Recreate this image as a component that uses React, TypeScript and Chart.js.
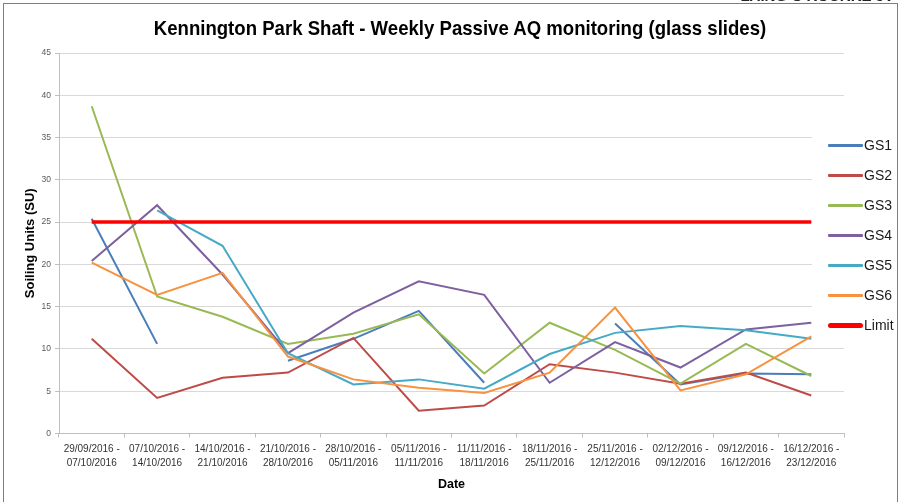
import React, { useEffect, useRef } from "react";
import { Chart, registerables } from "chart.js";

Chart.register(...registerables);

const categories: string[][] = [
  ["29/09/2016 -", "07/10/2016"],
  ["07/10/2016 -", "14/10/2016"],
  ["14/10/2016 -", "21/10/2016"],
  ["21/10/2016 -", "28/10/2016"],
  ["28/10/2016 -", "05/11/2016"],
  ["05/11/2016 -", "11/11/2016"],
  ["11/11/2016 -", "18/11/2016"],
  ["18/11/2016 -", "25/11/2016"],
  ["25/11/2016 -", "12/12/2016"],
  ["02/12/2016 -", "09/12/2016"],
  ["09/12/2016 -", "16/12/2016"],
  ["16/12/2016 -", "23/12/2016"],
];

const gs1: (number | null)[] = [25.4, 10.6, null, 8.6, 11.2, 14.5, 6.0, null, 13.0, 5.8, 7.1, 7.0];
const gs2: (number | null)[] = [11.2, 4.2, 6.6, 7.2, 11.3, 2.7, 3.3, 8.2, 7.2, 5.9, 7.2, 4.5];
const gs3: (number | null)[] = [38.7, 16.2, 13.8, 10.6, 11.8, 14.1, 7.1, 13.1, 9.9, 5.9, 10.6, 6.8];
const gs4: (number | null)[] = [20.4, 27.0, 18.8, 9.5, 14.3, 18.0, 16.4, 6.0, 10.8, 7.8, 12.3, 13.1];
const gs5: (number | null)[] = [null, 26.4, 22.2, 9.5, 5.8, 6.4, 5.3, 9.4, 11.9, 12.7, 12.2, 11.2];
const gs6: (number | null)[] = [20.2, 16.4, 19.0, 9.1, 6.4, 5.4, 4.8, 7.2, 14.9, 5.1, 7.0, 11.5];
const limit: number[] = [25, 25, 25, 25, 25, 25, 25, 25, 25, 25, 25, 25];

const seriesNames = ["GS1", "GS2", "GS3", "GS4", "GS5", "GS6", "Limit"];
const seriesColors = ["#4A7EBB", "#BE4B48", "#98B954", "#7D60A0", "#46AAC5", "#F69240", "#FF0000"];
const seriesData = [gs1, gs2, gs3, gs4, gs5, gs6, limit];

const yMin = 0;
const yMax = 45;
const yStep = 5;

const titleText = "Kennington Park Shaft - Weekly Passive AQ monitoring (glass slides)";
const yTitle = "Soiling Units (SU)";
const xTitle = "Date";

const FONT = "'Liberation Sans', Arial, sans-serif";

export default function App() {
  const ref = useRef<HTMLCanvasElement | null>(null);

  useEffect(() => {
    if (!ref.current) return;
    const datasets = seriesNames.map((name, i) => ({
      label: name,
      data: seriesData[i],
      borderColor: seriesColors[i],
      backgroundColor: seriesColors[i],
      borderWidth: name === "Limit" ? 3.5 : 2,
      pointRadius: 0,
      pointHoverRadius: 0,
      tension: 0,
      fill: false,
      spanGaps: false,
      order: seriesNames.length - i,
    }));
    const chart = new Chart(ref.current, {
      type: "line",
      data: { labels: categories, datasets },
      options: {
        responsive: false,
        animation: false,
        devicePixelRatio: 1,
        layout: { padding: { left: 0, right: 62, top: 53, bottom: 0 } },
        plugins: {
          legend: { display: false },
          title: { display: false },
          tooltip: { enabled: false },
        },
        scales: {
          x: {
            type: "category",
            offset: true,
            grid: {
              display: true,
              drawOnChartArea: false,
              drawTicks: true,
              tickLength: 4,
              offset: true,
              color: "#bfbfbf",
            },
            border: { color: "#bfbfbf" },
            ticks: {
              autoSkip: false,
              maxRotation: 0,
              minRotation: 0,
              padding: 4.5,
              color: "#333333",
              font: { family: FONT, size: 10, lineHeight: 1.4 },
            },
            title: {
              display: true,
              text: xTitle,
              color: "#000000",
              font: { family: FONT, size: 12.5, weight: "bold" },
              padding: { top: 0, bottom: 10 },
            },
            afterFit: (s: any) => {
              s.height = 68.5;
            },
          },
          y: {
            min: yMin,
            max: yMax,
            ticks: {
              stepSize: yStep,
              color: "#595959",
              padding: 4,
              font: { family: FONT, size: 8.5 },
            },
            grid: {
              color: "#d9d9d9",
              tickColor: "#bfbfbf",
              tickLength: 4,
            },
            border: { color: "#bfbfbf" },
            title: {
              display: true,
              text: yTitle,
              color: "#000000",
              font: { family: FONT, size: 13, weight: "bold" },
              padding: { top: 23, bottom: 0 },
            },
            afterFit: (s: any) => {
              s.width = 59;
            },
          },
        },
      },
    });
    return () => chart.destroy();
  }, []);

  return (
    <div
      style={{
        position: "fixed",
        left: 0,
        top: 0,
        width: 906,
        height: 502,
        background: "#ffffff",
        overflow: "hidden",
      }}
    >
      <canvas
        ref={ref}
        width={906}
        height={502}
        style={{ position: "absolute", left: 0, top: 0, width: 906, height: 502, display: "block" }}
      />
      <div
        style={{
          position: "absolute",
          left: 3,
          top: 3,
          width: 893,
          height: 540,
          border: "1px solid #7f7f7f",
          pointerEvents: "none",
        }}
      />
      <div
        style={{
          position: "absolute",
          right: 12,
          top: -12,
          font: `bold 15px ${FONT}`,
          lineHeight: "15px",
          color: "#222",
          whiteSpace: "nowrap",
        }}
      >
        LAING O'ROURKE JV
      </div>
      <div
        style={{
          position: "absolute",
          left: 0,
          top: 15,
          width: 920,
          textAlign: "center",
          font: `bold 21px ${FONT}`,
          lineHeight: "26px",
          color: "#000000",
          whiteSpace: "nowrap",
          transform: "scaleX(0.885)",
          transformOrigin: "460px 50%",
        }}
      >
        {titleText}
      </div>
      <div
        style={{
          position: "absolute",
          left: 812,
          top: 110,
          width: 84,
          height: 230,
          background: "#ffffff",
        }}
      >
        {seriesNames.map((name, i) => (
          <div
            key={name}
            style={{
              position: "absolute",
              left: 0,
              top: 35 + i * 30 - 10,
              height: 20,
              width: 84,
            }}
          >
            <div
              style={{
                position: "absolute",
                left: 16,
                top: name === "Limit" ? 7.5 : 8.5,
                width: 35,
                height: name === "Limit" ? 5 : 3,
                borderRadius: name === "Limit" ? 2.5 : 1,
                background: seriesColors[i],
              }}
            />
            <div
              style={{
                position: "absolute",
                left: 52,
                top: 0,
                font: `14px ${FONT}`,
                lineHeight: "20px",
                color: "#1a1a1a",
                whiteSpace: "nowrap",
              }}
            >
              {name}
            </div>
          </div>
        ))}
      </div>
    </div>
  );
}
